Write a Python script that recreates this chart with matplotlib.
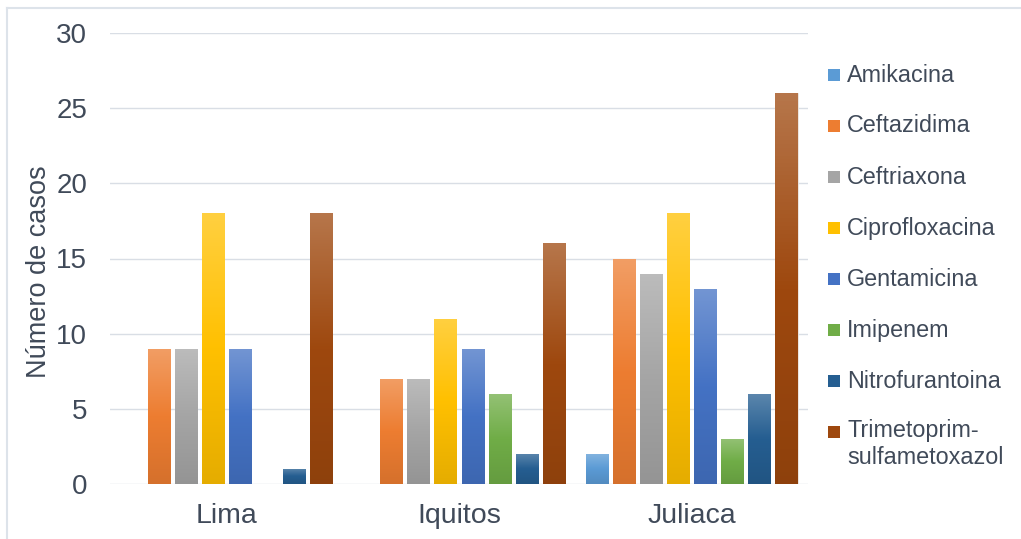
import matplotlib
matplotlib.use("Agg")
import matplotlib.pyplot as plt
import matplotlib.colors as mcolors
from matplotlib.patches import Rectangle
from matplotlib.lines import Line2D
import numpy as np

plt.rcParams['font.family'] = ['Liberation Sans', 'DejaVu Sans']

categories = ["Lima", "Iquitos", "Juliaca"]
series = ["Amikacina", "Ceftazidima", "Ceftriaxona", "Ciprofloxacina",
          "Gentamicina", "Imipenem", "Nitrofurantoina",
          "Trimetoprim-\nsulfametoxazol"]
amikacina = [0, 0, 2]
ceftazidima = [9, 7, 15]
ceftriaxona = [9, 7, 14]
ciprofloxacina = [18, 11, 18]
gentamicina = [9, 9, 13]
imipenem = [0, 6, 3]
nitrofurantoina = [1, 2, 6]
trimetoprim = [18, 16, 26]
values = [amikacina, ceftazidima, ceftriaxona, ciprofloxacina,
          gentamicina, imipenem, nitrofurantoina, trimetoprim]
colors = ["#5B9BD5", "#ED7D31", "#A5A5A5", "#FFC000",
          "#4472C4", "#70AD47", "#255E91", "#9E480E"]
yticks = [0, 5, 10, 15, 20, 25, 30]

W, H = 1021, 539
fig = plt.figure(figsize=(W / 100, H / 100), dpi=100)
ax = fig.add_axes([110 / W, 1 - 484 / H, (808 - 110) / W, (484 - 33) / H])

text_color = "#404A59"
pitch = 0.1165
bw = 0.095
x = np.arange(len(categories))


def lighten(c, f):
    r = np.array(mcolors.to_rgb(c))
    return tuple(r + (1 - r) * f)


def darken(c, f):
    r = np.array(mcolors.to_rgb(c))
    return tuple(r * (1 - f))


for i, (vals, col) in enumerate(zip(values, colors)):
    xs = x + (i - 3.5) * pitch
    bars = ax.bar(xs, vals, width=bw, color=col, edgecolor="#F2F2F2",
                  linewidth=0.6, zorder=2)
    cmap = mcolors.LinearSegmentedColormap.from_list(
        "g", [darken(col, 0.1), col, lighten(col, 0.25)])
    grad = np.linspace(0, 1, 100).reshape(-1, 1)
    for b in bars:
        h = b.get_height()
        if h <= 0:
            continue
        x0 = b.get_x()
        im = ax.imshow(grad, cmap=cmap, origin="lower", aspect="auto",
                       extent=[x0, x0 + bw, 0, h], zorder=2.5)
        im.set_clip_path(b)

ax.set_xlim(-0.5, 2.5)
ax.set_ylim(0, 30)
ax.set_yticks(yticks)
ax.set_xticks(x)
ax.set_xticklabels(categories, fontsize=20.5, color=text_color)
ax.tick_params(axis="y", labelsize=20, colors=text_color, length=0, pad=16.5)
ax.tick_params(axis="x", length=0, pad=13.5)
for s in ax.spines.values():
    s.set_visible(False)
ax.grid(axis="y", color="#D9DEE5", linewidth=1, zorder=0)
ax.set_axisbelow(True)
ax.set_ylabel("Número de casos", fontsize=19.5, color=text_color)
ax.yaxis.set_label_coords(-0.0838, 0.47)

# legend
y0 = 75
for i, (name, col) in enumerate(zip(series, colors)):
    yy = y0 + i * 51
    fig.patches.append(Rectangle((828 / W, 1 - (yy + 6) / H), 12 / W, 12 / H,
                                 transform=fig.transFigure, facecolor=col,
                                 edgecolor="none"))
    if "\n" in name:
        fig.text(847 / W, 1 - (yy - 13) / H, name, fontsize=16.8,
                 color=text_color, va="top", ha="left", linespacing=1.2)
    else:
        fig.text(847 / W, 1 - yy / H, name, fontsize=16.8, color=text_color,
                 va="center", ha="left")

# partial frame (top and left edges)
frame_col = "#DDE3EA"
fig.lines.append(Line2D([7 / W, 1], [1 - 8 / H, 1 - 8 / H],
                        transform=fig.transFigure, color=frame_col, lw=1.5))
fig.lines.append(Line2D([7 / W, 7 / W], [0, 1 - 8 / H],
                        transform=fig.transFigure, color=frame_col, lw=1.5))

fig.savefig("out.png", dpi=100)
